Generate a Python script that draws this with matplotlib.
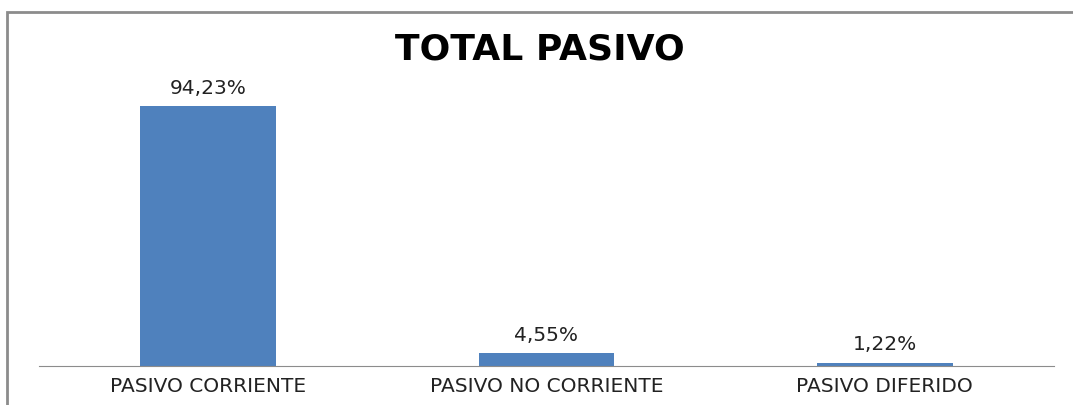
import matplotlib.pyplot as plt
from matplotlib.patches import Rectangle

categorias = ['PASIVO CORRIENTE', 'PASIVO NO CORRIENTE', 'PASIVO DIFERIDO']
valores = [94.23, 4.55, 1.22]
etiquetas = ['94,23%', '4,55%', '1,22%']

fig = plt.figure(figsize=(10.73, 4.05), dpi=100)
ax = fig.add_axes([0.0363, 0.0963, 0.946, 0.681])

ax.bar(range(len(categorias)), valores, width=0.4, color='#4F81BD')
for i, v in enumerate(valores):
    ax.text(i, v + 3, etiquetas[i], ha='center', va='bottom', fontsize=14.5,
            family='DejaVu Sans', color='#222222')

ax.set_xlim(-0.5, 2.5)
ax.set_ylim(0, 100)
ax.set_xticks(range(len(categorias)))
ax.set_xticklabels(categorias, fontsize=14.5, family='DejaVu Sans', color='#222222')
ax.tick_params(axis='x', length=0, pad=8)
ax.set_yticks([])
for s in ['top', 'right', 'left']:
    ax.spines[s].set_visible(False)
ax.spines['bottom'].set_color('#8c8c8c')

fig.text(0.503, 0.878, 'TOTAL PASIVO', ha='center', va='center', fontsize=26,
         fontweight='bold', family='DejaVu Sans')

# marco gris
fig.patches.append(Rectangle((7 / 1073, -0.1), 1.2, 0.1 + 393 / 405,
                             transform=fig.transFigure, fill=False,
                             edgecolor='#8c8c8c', linewidth=2))

plt.savefig('out.png', dpi=100)
